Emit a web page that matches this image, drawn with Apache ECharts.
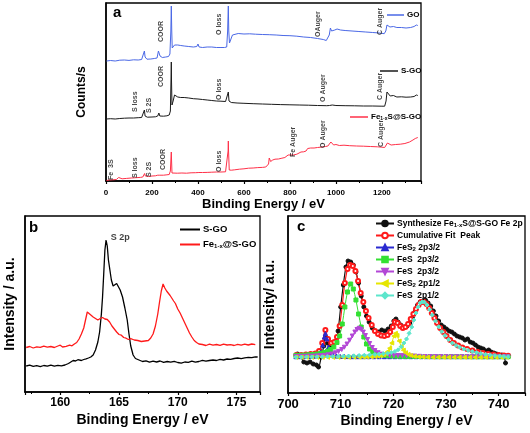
<!DOCTYPE html>
<html><head><meta charset="utf-8">
<script src="https://cdn.jsdelivr.net/npm/echarts@6/dist/echarts.min.js"></script>
<style>html,body{margin:0;padding:0;background:#fff}#c{width:530px;height:433px}</style>
</head><body><div id="c"></div>
<script>
// ---------- Panel a: survey spectra [eV, counts (a.u.)] ----------
const aGO = [[2,120],[20,120.5],[40,120],[60,120.8],[80,121],[100,120.6],[120,121.2],[140,121],[155,121.5],[163,123],[167,130],[170,124],[178,121.8],[195,122],[210,122.5],[222,123],[228,130],[231,132],[235,125],[245,123.5],[260,124],[272,124.5],[278,127],[282,150],[284,175],[286,150],[288,133],[292,135],[298,136],[305,138],[312,136],[325,135.5],[340,135],[360,134.5],[380,134],[395,134.5],[400,137],[405,134],[420,133.5],[440,134],[460,134],[480,133.5],[500,133.5],[515,133.5],[525,134],[529,150],[532,175],[534,150],[537,138],[542,140],[550,146],[558,148],[575,147.5],[600,147],[625,147.2],[650,146.8],[680,146.5],[710,146.3],[740,146],[770,145.5],[800,145.3],[830,144.8],[860,144],[890,143.5],[920,142.5],[945,141.5],[958,140.5],[966,140],[971,146],[976,153],[981,150],[986,149],[995,151],[1005,152],[1020,151],[1040,150.5],[1070,150],[1100,149.5],[1130,149],[1160,148.5],[1190,148],[1210,147.3],[1217,150],[1222,156],[1227,157],[1235,154],[1250,154.5],[1265,153.5],[1285,153.5],[1305,153],[1325,153.5],[1340,154.5],[1350,156],[1356,155.5]];
const aSGO = [[2,62],[20,62.3],[40,62],[60,62.5],[80,62.8],[100,63],[120,63],[140,63.3],[155,63.5],[163,64.5],[167,71],[170,65],[180,63.8],[200,64],[215,64.2],[225,65],[230,68],[234,65],[250,64.8],[265,65.2],[275,66],[280,70],[283,105],[284,119],[285,100],[287,76],[292,80],[298,86],[305,85],[312,84],[325,83.5],[340,83.5],[360,83],[380,82.3],[400,82],[420,81.5],[440,81],[460,80.5],[480,80],[500,79.8],[520,79.5],[528,80],[532,89],[535,80],[545,78.5],[570,78],[600,77.7],[640,77.3],[680,77],[720,76.7],[760,76.4],[800,76.2],[840,76],[880,75.8],[920,75.5],[960,75.3],[972,75.5],[978,77.5],[984,76],[1000,75.5],[1040,75.3],[1080,75.2],[1120,75],[1160,75],[1200,74.8],[1212,74.8],[1218,80],[1222,89],[1228,88],[1236,85],[1250,85.5],[1265,84],[1285,84.2],[1305,83.8],[1325,84],[1340,84.5],[1350,86],[1356,85.5]];
const aFe = [[2,0.5],[15,1],[30,1.2],[45,1.5],[52,2],[55,3.5],[58,2],[70,2.2],[90,2.6],[110,3],[130,3.3],[150,3.6],[160,4],[165,6],[168,7.5],[171,5],[185,4.5],[200,5],[215,5.2],[225,5.8],[230,7],[234,5.8],[250,5.8],[265,6.2],[275,6.5],[280,10],[283,25],[284,29],[285,22],[287,8],[295,7.5],[310,7.8],[330,8],[350,7.8],[370,8.2],[390,8.3],[398,9.5],[404,8.5],[420,8.5],[440,8.6],[460,8.8],[480,9],[500,9],[520,9.2],[528,10],[531,30],[532,40],[533,30],[536,11],[545,10.8],[560,11.2],[580,11.8],[600,12.2],[620,12.8],[640,13],[660,13.4],[680,13.6],[695,14],[703,14.5],[707,17],[710,23],[713,21],[716,19.5],[720,21.5],[725,21],[735,21.8],[750,22],[765,22.8],[778,23.5],[785,25.5],[792,26],[800,25.5],[815,26],[830,26.8],[838,28.5],[848,29],[860,29.2],[870,30],[877,32.5],[890,33],[905,33],[920,33.5],[940,34],[955,34.5],[965,35],[972,36],[978,39],[983,37.5],[990,36],[1000,36.5],[1015,35.5],[1035,35.8],[1060,35.3],[1090,35],[1120,34.8],[1150,34.5],[1180,34.2],[1200,33.8],[1212,33.5],[1218,35.5],[1224,38],[1230,37],[1240,36],[1260,36.5],[1280,36.8],[1300,37.5],[1320,39],[1335,41],[1345,42.5],[1352,44],[1356,43.5]];
// annotations [eV, y of text start, text]
const annGO = [[240,139,'COOR'],[491,146,'O loss'],[923,144,'OAuger'],[1192,146,'C Auger']];
const annSGO = [[128,69,'S loss'],[189,68,'S 2S'],[240,94,'COOR'],[491,81,'O loss'],[945,79,'O Auger'],[1190,81,'C Auger']];
const annFe = [[22,1,'Fe  3S'],[128,3,'S loss'],[189,4,'S 2S'],[247,11,'COOR'],[493,9,'O loss'],[814,24,'Fe Auger'],[946,33,'O Auger'],[1197,34,'C Auger']];

// ---------- Panel b: S 2p ----------
const bSGO = [[157.1,26],[157.4,26.8],[157.7,25.6],[158,26.3],[158.3,25.4],[158.6,26.5],[158.9,25.8],[159.2,26.9],[159.5,25.9],[159.8,26.6],[160.1,26.2],[160.4,27],[160.7,28.5],[160.9,30],[161.1,31.5],[161.3,31],[161.5,32.3],[161.8,31.5],[162.0,32.5],[162.2,33.2],[162.4,34],[162.6,35],[162.8,37],[163.0,42],[163.2,50],[163.35,60],[163.5,78],[163.6,95],[163.7,118],[163.8,142],[163.9,152],[164.0,146],[164.1,132],[164.2,124],[164.35,112],[164.5,106],[164.65,107],[164.8,108.5],[164.95,107],[165.1,102],[165.3,95],[165.5,84],[165.7,72],[165.85,58],[166.0,46],[166.2,37],[166.4,33.5],[166.7,32],[167.0,30.5],[167.3,31.2],[167.6,29.8],[167.9,30.8],[168.2,30],[168.5,31],[168.8,29.6],[169.1,30.5],[169.4,29.8],[169.7,30.6],[170.0,29.5],[170.3,28.8],[170.6,30],[170.9,29.6],[171.2,30.8],[171.5,29.8],[171.8,30.5],[172.1,31.6],[172.4,30.8],[172.7,31.5],[173.0,32],[173.3,31.5],[173.6,32.6],[173.9,32],[174.2,33],[174.5,32.7],[174.8,33.5],[175.1,34],[175.4,33.4],[175.7,34.2],[176.0,34.6],[176.3,34.3],[176.6,35.2],[176.8,35]];
const bFe = [[157.1,44.5],[157.4,45.5],[157.7,44],[158,45.2],[158.3,44.6],[158.6,45.8],[158.9,44.8],[159.2,45.5],[159.5,44.5],[159.8,46],[160.0,46.8],[160.2,45],[160.5,45.6],[160.8,46.8],[161.0,46.2],[161.2,48],[161.4,49.5],[161.6,53],[161.8,58],[162.0,64],[162.15,72],[162.3,80],[162.45,81],[162.6,77],[162.8,75],[163.0,73.5],[163.2,72],[163.4,73.5],[163.6,74.5],[163.8,73],[164.0,72.5],[164.2,70],[164.4,66],[164.6,63],[164.8,60],[165.0,57.5],[165.2,56.8],[165.4,54.5],[165.6,53.8],[165.8,52.5],[166.0,53.3],[166.3,52],[166.6,51.5],[166.9,50.5],[167.2,51],[167.5,51.5],[167.7,54],[167.9,58],[168.1,66],[168.3,78],[168.45,90],[168.6,101],[168.75,108],[168.9,104],[169.05,101],[169.2,99],[169.35,96.5],[169.5,95],[169.65,91],[169.8,88.5],[170.0,83],[170.2,79],[170.4,74],[170.6,69],[170.8,64],[171.0,59],[171.2,55],[171.4,51.5],[171.6,49.5],[171.8,48],[172.1,47.5],[172.4,46.5],[172.7,47.8],[173.0,46.8],[173.3,47.5],[173.6,46.6],[173.9,47.9],[174.2,47],[174.5,47.4],[174.8,46.5],[175.1,47.6],[175.4,46.8],[175.7,47.8],[176.0,47],[176.3,48],[176.6,47.4]];
const bAnn = [[164.3,154,'S 2p']];

// ---------- Panel c: Fe 2p fit ----------
const cRaw = [[701.8,39],[702.4,37],[703,31],[703.6,30],[704.2,31],[704.8,29],[705.4,28],[705.8,26],[706.3,36],[706.8,47],[707.1,56],[707.5,50],[708,46],[708.5,47],[709,51],[709.5,62],[710,86],[710.5,108],[711,126],[711.4,132],[711.9,131],[712.4,128],[712.9,121],[713.4,110],[713.9,97],[714.4,86],[714.9,77],[715.4,71],[716,65],[716.6,62],[717.2,61],[717.8,63],[718.4,62],[719,64],[719.6,67],[720.1,72],[720.5,74],[720.9,71],[721.4,68],[722,66],[722.6,67],[723.1,70],[723.6,75],[724.1,81],[724.6,88],[725.1,91],[725.6,92],[726.1,93],[726.6,90],[727.1,87],[727.6,82],[728.1,77],[728.6,72],[729.1,68],[729.6,66],[730.1,64],[730.6,62],[731.1,61],[731.6,59],[732.1,57],[732.6,56],[733.1,55],[733.6,53],[734.1,54],[734.6,51],[735.1,50],[735.6,48],[736.1,46],[736.6,45],[737.1,44],[737.6,42],[738.1,43],[738.6,41],[739.1,40],[739.6,39],[740.1,38],[740.6,38],[741.0,37],[741.3,30]];
const cFit = [[701.6,38],[702.5,38],[703.4,38.5],[704.3,39],[705.2,39.5],[705.9,42],[706.5,50],[707.1,63],[707.6,54],[708.2,50],[708.8,51],[709.3,56],[709.8,67],[710.3,88],[710.8,110],[711.3,124],[711.8,128],[712.3,127],[712.8,122],[713.3,112],[713.8,100],[714.3,91],[714.8,82],[715.3,75],[715.9,68],[716.5,62],[717.1,59],[717.7,57.5],[718.3,57],[718.9,58],[719.4,61],[719.9,66],[720.3,71],[720.8,70],[721.3,67],[721.8,65],[722.3,66],[722.8,69],[723.3,74],[723.8,79],[724.3,84],[724.8,88],[725.3,91],[725.8,91],[726.3,89],[726.8,85],[727.3,80],[727.8,75],[728.3,70],[728.9,65],[729.5,61],[730.1,57],[730.8,53],[731.5,50],[732.3,47.5],[733.1,45.5],[734,44],[735,42.5],[736,41],[737,40],[738,39],[739,38.5],[740,38],[741,37.5],[741.8,37.3]];
const cFeS2_2p32 = [[701.5,36.3],[702.3,36.3],[703.1,36.4],[703.9,36.5],[704.7,36.6],[705.3,37],[705.8,38.5],[706.2,41],[706.6,48],[706.9,56],[707.1,59.5],[707.4,54],[707.7,46],[708.1,40],[708.6,37.5],[709.2,36.9],[709.9,36.6],[710.7,36.5],[711.5,36.4],[712.3,36.3],[713.3,36.3],[714.3,36.3],[715.3,36.3],[716.3,36.3],[717.3,36.3],[718.3,36.3],[719.3,36.3],[720.3,36.3],[721.3,36.3],[722.3,36.3],[723.3,36.3],[724.3,36.3],[725.3,36.3],[726.3,36.3],[727.3,36.3],[728.3,36.3],[729.3,36.3],[730.3,36.3],[731.3,36.3],[732.3,36.3],[733.3,36.3],[734.3,36.3],[735.3,36.3],[736.3,36.3],[737.3,36.3],[738.3,36.3],[739.3,36.3],[740.3,36.3],[741.3,36.3]];
const cFeS_2p32a = [[701.5,37.6],[702.3,37.7],[703.1,37.9],[703.9,38.2],[704.7,38.5],[705.5,39],[706.2,39.6],[706.9,40.5],[707.5,41.8],[708.1,43.5],[708.7,46],[709.3,50.5],[709.8,57],[710.3,69],[710.8,86],[711.3,101],[711.9,109],[712.4,104],[712.9,93],[713.4,79],[713.9,66],[714.4,56],[714.9,49],[715.5,44],[716.1,41.3],[716.8,39.6],[717.5,38.5],[718.2,37.8],[719,37.3],[719.8,37],[720.6,36.9],[721.4,36.8],[722.2,36.7],[723,36.6],[724,36.6],[725,36.5],[726,36.5],[727,36.5],[728,36.4],[729,36.4],[730,36.4],[731,36.4],[732,36.4],[733,36.4],[734,36.4],[735,36.3],[736,36.3],[737,36.3],[738,36.3],[739,36.3],[740,36.3],[741,36.3],[741.8,36.3]];
const cFeS_2p32b = [[701.5,36.5],[702.3,36.6],[703.1,36.7],[703.9,36.8],[704.7,36.9],[705.5,37.1],[706.2,37.3],[706.9,37.6],[707.6,38.2],[708.3,39],[709,40.2],[709.6,41.6],[710.2,43.5],[710.7,45.8],[711.2,49],[711.7,52.8],[712.2,57],[712.7,61],[713.1,63.5],[713.5,64.7],[713.9,63.5],[714.3,61],[714.7,57.5],[715.1,53.5],[715.5,49.5],[716,45.5],[716.5,42.5],[717.1,40.3],[717.8,38.8],[718.5,38],[719.3,37.7],[720.1,37.5],[720.9,37.5],[721.7,37.4],[722.5,37.3],[723.3,37.1],[724.1,36.9],[725,36.7],[726,36.5],[727,36.4],[728,36.4],[729,36.4],[730,36.3],[731,36.3],[732,36.3],[733,36.3],[734,36.3],[735,36.3],[736,36.3],[737,36.3],[738,36.3],[739,36.3],[740,36.3],[741,36.3],[741.8,36.3]];
const cFeS2_2p12 = [[701.5,35.7],[702.5,35.7],[703.5,35.7],[704.5,35.7],[705.5,35.7],[706.5,35.7],[707.5,35.7],[708.5,35.7],[709.5,35.7],[710.5,35.7],[711.5,35.7],[712.5,35.8],[713.5,35.8],[714.3,35.9],[715,36],[715.8,36.2],[716.5,36.4],[717.1,36.8],[717.6,37.4],[718.1,38.3],[718.5,39.5],[718.9,41.5],[719.3,44.8],[719.7,50],[720.1,57],[720.4,59.7],[720.7,57.5],[721.1,52],[721.5,46.5],[721.9,42.8],[722.3,40.3],[722.8,38.6],[723.3,37.5],[724,36.7],[724.8,36.2],[725.6,36],[726.5,35.8],[727.5,35.7],[728.5,35.7],[729.5,35.7],[730.5,35.7],[731.5,35.7],[732.5,35.7],[733.5,35.7],[734.5,35.7],[735.5,35.7],[736.5,35.7],[737.5,35.7],[738.5,35.7],[739.5,35.7],[740.5,35.7],[741.5,35.7]];
const cFeS_2p12 = [[701.5,35.8],[702.5,35.9],[703.5,36],[704.5,36.1],[705.5,36.2],[706.5,36.3],[707.5,36.4],[708.5,36.5],[709.5,36.6],[710.5,36.8],[711.5,37],[712.5,37.2],[713.5,37.5],[714.5,37.8],[715.5,38.1],[716.5,38.5],[717.3,38.9],[718.1,39.3],[718.9,39.8],[719.6,40.4],[720.3,41.5],[720.9,43.2],[721.5,46.3],[722,50],[722.5,54],[723,59.7],[723.5,66],[723.9,73],[724.3,80],[724.7,86],[725.1,90],[725.5,91.3],[725.9,90.8],[726.4,88],[726.9,83.5],[727.4,78],[728,72],[728.6,66.3],[729.2,61.5],[729.8,57.5],[730.5,53.5],[731.2,50],[731.9,47.6],[732.6,45.8],[733.4,44],[734.2,42.6],[735,41.4],[735.8,40.4],[736.6,39.5],[737.5,38.7],[738.4,38.1],[739.3,37.5],[740.2,37],[741,36.6],[741.8,36.3]];

const FONT = 'Arial, "Liberation Sans", sans-serif';
const BOLD = {fontFamily: FONT, fontWeight: 'bold', color: '#000'};

function xAx(grid, min, max, interval, split, fs, margin, nameGap, nameFs, showMin, showMax) {
  const o = {
    type: 'value', gridIndex: grid, min: min, max: max,
    axisLine: {show: true, lineStyle: {color: '#000', width: 1.5}},
    axisTick: {show: true, inside: false, length: 3, lineStyle: {color: '#000', width: 1.2}},
    minorTick: {show: true, splitNumber: 2, length: 2, lineStyle: {color: '#000', width: 1}},
    axisLabel: Object.assign({fontSize: fs, margin: margin, showMinLabel: showMin, showMaxLabel: showMax,
      formatter: v => String(v)}, BOLD),
    splitLine: {show: false},
    name: 'Binding Energy / eV', nameLocation: 'middle', nameGap: nameGap,
    nameTextStyle: Object.assign({fontSize: nameFs}, BOLD)
  };
  if (interval) o.interval = interval; else o.splitNumber = split;
  return o;
}
function yAx(grid, max, name, gap, fs) {
  return {
    type: 'value', gridIndex: grid, min: 0, max: max,
    axisLine: {show: true, lineStyle: {color: '#000', width: 1.5}},
    axisTick: {show: false}, axisLabel: {show: false}, splitLine: {show: false},
    name: name, nameLocation: 'middle', nameGap: gap, nameRotate: 90,
    nameTextStyle: Object.assign({fontSize: fs}, BOLD)
  };
}
function lineS(name, data, color, xi, w) {
  return {name: name, type: 'line', data: data, xAxisIndex: xi, yAxisIndex: xi,
    symbol: 'none', lineStyle: {color: color, width: w}, itemStyle: {color: color},
    animation: false, z: 3};
}
function annS(ann, xi, rot, fs) {
  return {type: 'scatter', xAxisIndex: xi, yAxisIndex: xi, symbolSize: 0, silent: true,
    data: ann.map(d => ({value: [d[0], d[1]], name: d[2]})),
    label: Object.assign({show: true, formatter: '{b}', position: [0, 0], rotate: rot,
      align: 'left', verticalAlign: 'middle', fontSize: fs}, BOLD, {color: '#111'}),
    animation: false, z: 5};
}
function markS(name, data, color, sym, size, w) {
  return {name: name, type: 'line', data: data, xAxisIndex: 2, yAxisIndex: 2,
    symbol: sym, symbolSize: size, showSymbol: true, smooth: 0.3,
    lineStyle: {color: color, width: w}, itemStyle: {color: color, borderColor: color, borderWidth: 1},
    animation: false, z: 3};
}

const LEG = {
  'GO': 'GO', 'S-GO': 'S-GO', 'FeA': 'Fe{s|1-x}S@S-GO',
  'SGOb': 'S-GO', 'Feb': 'Fe{s|1-x}@S-GO',
  'raw': 'Synthesize Fe{s|1-x}S@S-GO Fe 2p', 'fit': 'Cumulative Fit  Peak',
  'fes2a': 'FeS{s|2} 2p3/2', 'fesa': 'FeS  2p3/2', 'fesb': 'FeS  2p3/2',
  'fes2b': 'FeS{s|2} 2p1/2', 'fesc': 'FeS  2p1/2'
};
function leg(data, left, top, fs, iw, ih, gap, lh, icon) {
  const o = {data: data, left: left, top: top, orient: 'vertical', itemWidth: iw, itemHeight: ih,
    itemGap: gap, padding: 0, selectedMode: false,
    formatter: n => LEG[n],
    textStyle: Object.assign({fontSize: fs, lineHeight: lh, padding: [0, 0, 0, -2],
      rich: {s: {fontSize: Math.round(fs * 0.65), fontWeight: 'bold', fontFamily: FONT, padding: [Math.round(fs * 0.45), 0, 0, 0]}}}, BOLD)};
  if (icon) o.icon = icon;
  return o;
}

const chart = echarts.init(document.getElementById('c'), null, {renderer: 'canvas'});
chart.setOption({
  backgroundColor: '#fff',
  animation: false,
  title: [
    {text: 'a', left: 113, top: 5, padding: 0, textStyle: Object.assign({fontSize: 15}, BOLD)},
    {text: 'b', left: 29, top: 220, padding: 0, textStyle: Object.assign({fontSize: 15}, BOLD)},
    {text: 'c', left: 297, top: 219, padding: 0, textStyle: Object.assign({fontSize: 15}, BOLD)}
  ],
  grid: [
    {left: 106, top: 3, width: 315, height: 178, show: true, borderColor: '#000', borderWidth: 1.3},
    {left: 25, top: 216, width: 235, height: 176, show: true, borderColor: '#000', borderWidth: 1.3},
    {left: 288, top: 216, width: 237, height: 177, show: true, borderColor: '#000', borderWidth: 1.3}
  ],
  xAxis: [
    xAx(0, 0, 1370, 200, null, 8, 8, 14, 13, true, false),
    xAx(1, 157, 177, null, 4, 12, 5, 21, 14, false, false),
    xAx(2, 700, 745, 10, null, 13, 5, 21, 14, true, false)
  ],
  yAxis: [
    yAx(0, 178, 'Counts/s', 18, 12),
    yAx(1, 176, 'Intensity / a.u.', 8, 14),
    yAx(2, 177, 'Intensity/ a.u.', 11, 14)
  ],
  legend: [
    leg(['GO'], 387, 10, 8, 17, 1.5, 0, 10, 'rect'),
    leg(['S-GO'], 380, 66, 8, 18, 1.5, 0, 10, 'rect'),
    leg(['FeA'], 350, 112, 8, 18, 1.5, 0, 10, 'rect'),
    leg(['SGOb', 'Feb'], 180, 224, 9.5, 20, 2, 4, 11, 'rect'),
    leg(['raw', 'fit', 'fes2a', 'fesa', 'fesb', 'fes2b', 'fesc'], 375, 218, 8.5, 18, 7, 1, 11)
  ],
  series: [
    lineS('GO', aGO, '#4a68e6', 0, 1),
    lineS('S-GO', aSGO, '#1a1a1a', 0, 1),
    lineS('FeA', aFe, '#ff3048', 0, 1),
    annS(annGO, 0, 90, 7), annS(annSGO, 0, 90, 7), annS(annFe, 0, 90, 7),
    lineS('SGOb', bSGO, '#000', 1, 1.3),
    lineS('Feb', bFe, '#ff1a1a', 1, 1.3),
    annS(bAnn, 1, 0, 9),
    markS('raw', cRaw, '#111', 'circle', 4, 1.2),
    markS('fit', cFit, '#ff1a1a', 'emptyCircle', 4, 1.2),
    markS('fes2a', cFeS2_2p32, '#2a2ad0', 'triangle', 4, 1),
    markS('fesa', cFeS_2p32a, '#33e033', 'rect', 4, 1),
    markS('fesb', cFeS_2p32b, '#b347d6', 'path://M0,0L10,0L5,9Z', 4, 1),
    markS('fes2b', cFeS2_2p12, '#e6e600', 'path://M10,0L10,10L0,5Z', 4, 1),
    markS('fesc', cFeS_2p12, '#5ce6cc', 'diamond', 4, 1)
  ]
});
</script></body></html>
